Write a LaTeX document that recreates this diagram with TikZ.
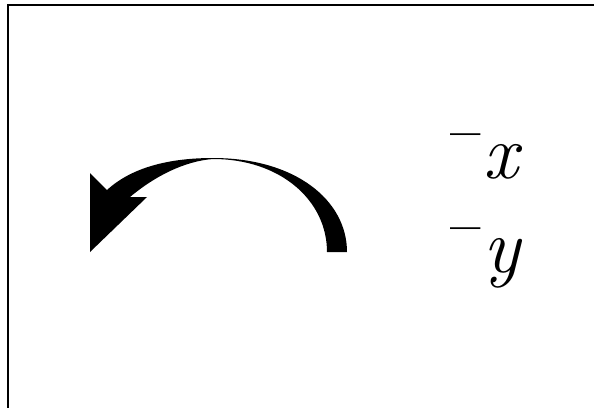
\documentclass[tikz,border=0pt]{standalone}
\usepackage{fontspec}
\usepackage{tikz}
\usetikzlibrary{positioning}
\usepackage{xcolor}
\definecolor{inkblack}{RGB}{0,0,0}
\tikzset{
  frameline/.style={draw=inkblack,line width=1.6pt},
  bentarrow/.style={fill=inkblack,draw=none},
  axislabel/.style={inner sep=0pt,anchor=base west,text=inkblack,
                    font=\fontsize{44}{48}\selectfont},
}
\newcommand{\negaxis}[1]{\raisebox{0.16em}{\textsuperscript{\bfseries --}}\kern0.02em\textit{#1}}

\begin{document}
\begin{tikzpicture}[x=0.02cm,y=-0.02cm]
  \useasboundingbox (0,0) rectangle (594,407);
  \clip (0,0) rectangle (594,407);
  \draw[frameline] (8,5) rectangle (620,430);
  % curved arrow, tapering to nothing at its top
  \fill[bentarrow] (327,252) .. controls (327,200) and (280,159) .. (213,159)
    .. controls (185,161) and (155,176) .. (130,197)
    -- (147,197) -- (90,252) -- (90,173) -- (107,190)
    .. controls (132,167) and (170,158) .. (213,158)
    .. controls (295,158) and (347,200) .. (347,252) -- cycle;
  \node[axislabel] (labx) at (450,178) {\negaxis{x}};
  \node[axislabel] (laby) at (450,272) {\negaxis{y}};
\end{tikzpicture}
\end{document}
